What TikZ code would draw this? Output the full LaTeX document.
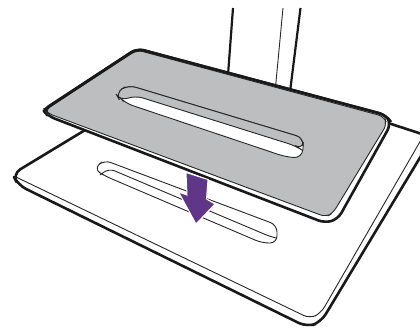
\documentclass[tikz,border=0pt]{standalone}
\usepackage{tikz}

\definecolor{plategray}{HTML}{BCBEC0}
\definecolor{arrowpurple}{HTML}{5F3688}

\begin{document}
\begin{tikzpicture}[
  x=1pt,y=-1pt,
  heavy/.style={line width=2.6pt,black!90,line join=round},
  fine/.style={line width=.9pt,black!85}
]
  \useasboundingbox (0,0) rectangle (420,327);
  % stand
  \draw[heavy,line width=2.2pt] (233,8) -- (228,75);
  \draw[heavy,line width=2.2pt] (300.5,8) -- (290,92);
  \draw[fine] (283,8) -- (275.5,87);
  % base plate
  \draw[heavy,rounded corners=9pt] (100,121) -- (12.5,174) -- (18,185) -- (307,327) -- (321,322) -- (430,141);
  \draw[heavy] (385,122) -- (425,135);
  \draw[fine,rounded corners=7pt] (16,177) -- (310,318.5) -- (321,313) -- (425,133);
  % base slot
  \draw[fine,rounded corners=7pt] (105,176) -- (94,169) -- (104,160) -- (277,225) -- (277,243) -- (262,243) -- cycle;
  \draw[fine,rounded corners=6pt] (100,175) -- (109,168.5) -- (270,236.5) -- (276,238);
  % top plate
  \draw[heavy,fill=white,rounded corners=7pt] (137,48.5) -- (43,110) -- (48,116) -- (325,223) -- (338,219) -- (391,124) -- (386,115) -- cycle;
  \draw[fine,fill=plategray,rounded corners=6pt] (137,50) -- (45,110) -- (47,113) -- (326,217) -- (333,213) -- (387,124) -- (384,116.5) -- cycle;
  \draw[heavy,rounded corners=7pt] (44,110) -- (137,48.5) -- (386,115) -- (391,122);
  % top slot
  \draw[fine,fill=white,rounded corners=8pt] (125,103) -- (115.5,93) -- (128,85) -- (304,138) -- (302,158) -- (286,157) -- cycle;
  \draw[fine,fill=plategray,rounded corners=8pt] (120,101) -- (115.5,93) -- (128,85) -- (304,138) -- (302,150) -- (296,146) -- (135,95.5) -- cycle;
  % arrow
  \draw[white,fill=arrowpurple,line width=1pt,line join=miter]
    (186,172.5) -- (208,179.5) -- (206.5,199) -- (215,204) -- (196,224) -- (178.5,192) -- (187,195) -- cycle;
\end{tikzpicture}
\end{document}
